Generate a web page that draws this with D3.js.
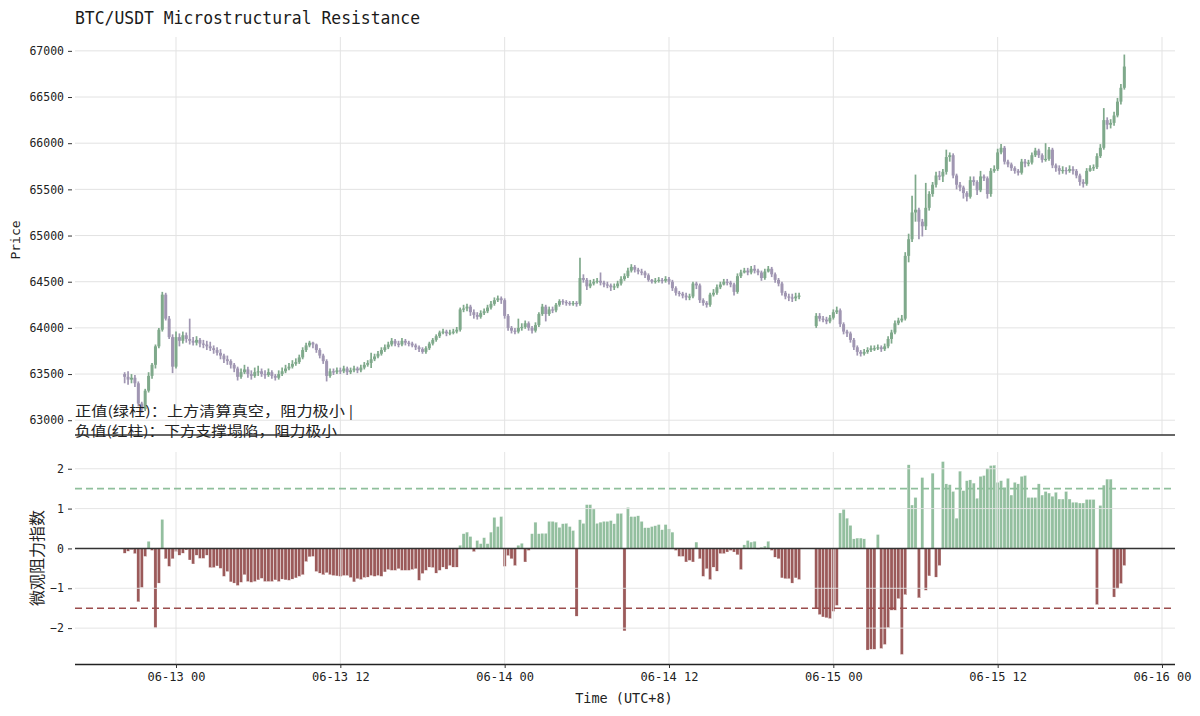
<!DOCTYPE html>
<html><head><meta charset="utf-8">
<script src="https://cdn.jsdelivr.net/npm/d3@7"></script>
<style>body{margin:0;background:#fff}svg{display:block}</style>
</head><body>
<svg id="c" width="1200" height="716"></svg>
<script>
// ---------- DATA (15-minute bars starting 06-12 20:15, UTC+8) ----------
const startTime = [2024, 5, 12, 20, 15];
const closes = [
63470,63440,63460,63400,63180,63120,63320,63480,63600,63800,
63980,64360,64100,63900,63580,63900,63860,63920,63880,63860,
63840,63870,63830,63820,63800,63780,63760,63730,63700,63660,
63640,63600,63560,63470,63520,63550,63500,63480,63520,63530,
63500,63490,63520,63480,63460,63500,63530,63560,63580,63610,
63630,63680,63760,63810,63840,63820,63760,63700,63640,63480,
63530,63520,63540,63530,63560,63520,63540,63560,63540,63570,
63600,63620,63660,63690,63720,63760,63790,63820,63860,63830,
63820,63860,63840,63830,63810,63790,63770,63740,63780,63830,
63870,63910,63950,63960,63940,63950,63960,63980,64200,64210,
64230,64170,64140,64120,64160,64180,64220,64260,64300,64320,
64300,64130,64000,63970,63960,64000,64010,64050,64000,63970,
64030,64150,64230,64150,64200,64190,64250,64290,64280,64270,
64260,64270,64260,64540,64520,64450,64480,64500,64510,64490,
64470,64460,64440,64450,64480,64530,64560,64620,64660,64630,
64610,64600,64570,64520,64500,64510,64520,64510,64530,64500,
64430,64380,64370,64350,64330,64340,64480,64460,64300,64270,
64250,64360,64380,64440,64470,64500,64490,64470,64390,64560,
64600,64620,64600,64640,64620,64600,64540,64610,64640,64580,
64520,64480,64380,64340,64330,64320,64340,64350,null,null,
null,null,64130,64100,64090,64070,64110,64170,64190,64040,
63960,63940,63870,63790,63740,63720,63740,63760,63780,63780,
63790,63770,63800,63880,63950,64050,64080,64100,64780,64960,
65250,65280,65150,65100,65300,65450,65550,65650,65640,65690,
65850,65870,65650,65550,65520,65460,65420,65600,65580,65490,
65640,65620,65450,65700,65720,65900,65950,65800,65770,65730,
65700,65680,65800,65780,65790,65870,65920,65870,65820,65830,
65930,65760,65730,65700,65710,65700,65720,65700,65650,65580,
65560,65700,65730,65740,65860,65950,66250,66200,66220,66300,
66450,66600,66830
];
const highs = [
63520,63530,63500,63490,63420,63200,63340,63520,63620,63820,
64000,64390,64380,64130,63930,63960,63940,63960,63950,64100,
63900,63910,63890,63870,63860,63850,63810,63790,63770,63720,
63700,63660,63620,63580,63560,63600,63580,63540,63570,63590,
63560,63540,63560,63540,63500,63540,63570,63600,63620,63650,
63670,63710,63790,63840,63860,63850,63830,63780,63720,63660,
63560,63560,63570,63570,63590,63580,63570,63590,63580,63600,
63630,63650,63730,63720,63750,63790,63820,63850,63890,63880,
63860,63890,63880,63860,63850,63830,63810,63790,63800,63850,
63890,63930,63970,63990,63980,63980,63990,64010,64220,64250,
64260,64250,64200,64170,64190,64210,64250,64290,64330,64350,
64340,64320,64150,64020,64000,64100,64050,64080,64070,64020,
64060,64170,64260,64250,64230,64230,64270,64310,64310,64300,
64290,64290,64290,64760,64580,64540,64520,64530,64540,64600,
64510,64500,64480,64480,64510,64560,64590,64650,64690,64680,
64650,64640,64620,64590,64530,64540,64550,64540,64560,64550,
64520,64450,64400,64390,64380,64370,64500,64500,64480,64320,
64290,64380,64420,64470,64500,64530,64530,64510,64490,64590,
64630,64650,64650,64670,64680,64640,64620,64640,64670,64660,
64600,64540,64500,64400,64370,64370,64380,64380,null,null,
null,null,64160,64160,64130,64120,64140,64200,64230,64210,
64060,63980,63960,63890,63810,63760,63770,63790,63810,63810,
63820,63810,63830,63910,63980,64080,64110,64140,64820,65020,
65430,65660,65300,65180,65570,65480,65580,65690,65700,65720,
65930,65900,65890,65670,65580,65540,65480,65640,65640,65600,
65700,65660,65640,65730,65760,65940,65990,65970,65820,65790,
65750,65720,65830,65830,65820,65900,65950,65940,65890,66000,
65960,65950,65780,65760,65750,65740,65760,65750,65720,65670,
65610,65730,65760,65770,65890,65990,66380,66280,66260,66340,
66490,66640,66960
];
const lows = [
63400,63385,63400,63360,63150,63080,63100,63300,63450,63560,
63780,63960,64080,63880,63510,63560,63800,63830,63840,63820,
63810,63810,63790,63780,63760,63750,63720,63700,63660,63620,
63600,63560,63520,63430,63450,63500,63460,63440,63460,63480,
63470,63450,63470,63450,63430,63440,63480,63510,63540,63560,
63590,63610,63660,63740,63790,63780,63730,63670,63610,63420,
63460,63490,63500,63500,63510,63490,63500,63520,63510,63520,
63550,63580,63565,63640,63670,63700,63740,63770,63800,63800,
63790,63800,63810,63800,63790,63760,63740,63720,63720,63760,
63810,63850,63890,63930,63910,63920,63930,63940,63960,64170,
64180,64130,64100,64090,64100,64140,64160,64200,64240,64280,
64260,64100,63970,63940,63930,63940,63970,63990,63970,63940,
63950,64010,64130,64070,64130,64160,64170,64230,64250,64240,
64240,64240,64230,64240,64490,64410,64430,64460,64480,64460,
64440,64430,64400,64410,64430,64460,64510,64540,64600,64600,
64580,64570,64540,64500,64480,64480,64490,64480,64490,64470,
64400,64350,64340,64320,64300,64300,64320,64420,64270,64240,
64220,64230,64340,64360,64420,64460,64460,64440,64350,64370,
64540,64590,64570,64580,64590,64570,64510,64520,64600,64550,
64490,64450,64350,64310,64290,64280,64290,64310,null,null,
null,null,64000,64070,64060,64040,64050,64090,64150,64010,
63930,63900,63840,63760,63700,63690,63700,63720,63740,63750,
63760,63740,63750,63780,63830,63930,64030,64060,64080,64710,
64930,65150,64960,64990,65060,65270,65420,65520,65600,65580,
65660,65800,65620,65500,65480,65400,65370,65400,65540,65440,
65470,65590,65400,65420,65680,65700,65880,65770,65740,65700,
65670,65650,65660,65740,65750,65770,65850,65840,65790,65800,
65810,65730,65690,65660,65670,65660,65680,65660,65620,65540,
65520,65540,65690,65700,65720,65840,65930,66150,66160,66190,
66280,66420,66580
];
// opens of bars that follow a missing bar (otherwise open = previous close)
const segmentOpens = {0: 63500, 202: 64020};

const resistance = [
-0.12,-0.07,-0.03,-0.13,-1.34,-0.98,-0.20,0.18,-0.05,-1.99,
-0.87,0.73,-0.26,-0.45,-0.26,-0.08,-0.17,-0.12,-0.04,-0.29,
-0.39,-0.17,-0.25,-0.25,-0.17,-0.48,-0.48,-0.44,-0.50,-0.70,
-0.58,-0.84,-0.87,-0.93,-0.85,-0.66,-0.83,-0.85,-0.83,-0.79,
-0.75,-0.83,-0.83,-0.83,-0.79,-0.83,-0.77,-0.79,-0.80,-0.77,
-0.74,-0.70,-0.66,-0.33,-0.21,-0.20,-0.58,-0.62,-0.66,-0.61,
-0.66,-0.68,-0.69,-0.70,-0.68,-0.68,-0.73,-0.84,-0.76,-0.78,
-0.73,-0.72,-0.68,-0.70,-0.68,-0.70,-0.59,-0.53,-0.55,-0.55,
-0.51,-0.55,-0.55,-0.55,-0.53,-0.51,-0.80,-0.63,-0.55,-0.47,
-0.48,-0.62,-0.55,-0.47,-0.52,-0.43,-0.47,-0.47,0.08,0.37,
0.41,0.30,-0.08,0.20,0.12,0.27,0.12,0.41,0.78,0.55,
0.80,-0.45,-0.18,-0.26,-0.43,0.08,0.13,-0.34,-0.05,0.37,
0.66,0.37,0.38,0.38,0.68,0.68,0.66,0.53,0.62,0.63,
0.55,0.45,-1.70,0.72,0.63,1.10,1.10,0.99,0.63,0.66,
0.68,0.68,0.70,0.62,0.88,0.88,-2.07,1.03,0.80,0.80,
0.82,0.68,0.52,0.52,0.55,0.57,0.60,0.47,0.60,0.49,
0.41,-0.05,-0.20,-0.20,-0.34,-0.30,-0.34,0.16,-0.26,-0.70,
-0.51,-0.78,-0.47,-0.57,-0.13,-0.13,-0.09,-0.05,-0.09,-0.16,
-0.53,0.09,0.20,0.16,0.18,-0.02,0.03,0.06,0.18,-0.05,
-0.22,-0.26,-0.74,-0.76,-0.76,-0.87,-0.74,-0.78,null,null,
null,null,-1.52,-1.66,-1.72,-1.74,-1.76,-1.58,-1.43,0.89,
0.98,0.76,0.58,0.24,0.26,0.26,0.24,-2.55,-2.53,-2.53,
0.35,-2.51,-2.41,-1.99,-1.55,-1.55,-1.26,-2.66,-1.16,2.10,
1.09,1.28,-1.24,1.78,-1.05,-0.69,1.89,-0.72,-0.43,2.18,
1.62,1.60,1.43,0.76,1.94,1.45,1.70,1.72,1.64,1.26,
1.81,1.83,2.01,2.08,2.09,1.66,1.70,1.53,1.76,1.34,
1.66,1.62,1.81,1.83,1.28,1.28,1.28,1.62,1.34,1.43,
1.39,1.31,1.41,1.24,1.24,1.43,1.24,1.16,1.16,1.14,
1.14,1.23,1.23,1.23,-1.41,1.08,1.59,1.74,1.74,-1.22,
-1.01,-0.88,-0.43
];
const thresholds = [1.5, -1.5];
const priceTicks = [63000,63500,64000,64500,65000,65500,66000,66500,67000];
const resTicks = [-2,-1,0,1,2];
const timeTickLabels = ["06-13 00","06-13 12","06-14 00","06-14 12","06-15 00","06-15 12","06-16 00"];
const titleText = "BTC/USDT Microstructural Resistance";
const legendLines = ["正值(绿柱)：上方清算真空，阻力极小 |", "负值(红柱)：下方支撑塌陷，阻力极小"];

// ---------- BUILD ----------
const t0 = new Date(...startTime);
const times = closes.map((_, i) => d3.timeMinute.offset(t0, 15 * i));
const candles = [];
closes.forEach((c, i) => {
  if (c == null) return;
  const o = (i in segmentOpens) ? segmentOpens[i] : closes[i - 1];
  candles.push({t: times[i], o, c, hi: Math.max(o, c, highs[i]), lo: Math.min(o, c, lows[i])});
});
const bars = resistance.map((v, i) => ({t: times[i], v})).filter(d => d.v != null);

const svg = d3.select("#c");
const L = 75, R = 1175;
const x = d3.scaleTime()
  .domain([new Date(2024,5,12,16,37,30), new Date(2024,5,16,0,57)])
  .range([L, R]);
const yP = d3.scaleLinear().domain([62840, 67150]).range([435, 37]);
const yR = d3.scaleLinear().domain([-2.9, 2.42]).range([664, 452]);
const tickDates = timeTickLabels.map((s, k) => new Date(2024,5,13 + Math.floor(k/2), (k%2)*12));

const monoFont = "'DejaVu Sans Mono', monospace";
const gridCol = "#e3e3e3";

// title
svg.append("text").attr("x", 75).attr("y", 24)
  .attr("font-family", monoFont).attr("font-size", 18).attr("fill", "#1a1a1a")
  .attr("textLength", 345).attr("lengthAdjust", "spacingAndGlyphs")
  .text(titleText);

// ---- top panel ----
const gTop = svg.append("g");
gTop.selectAll("line.hg").data(priceTicks).join("line")
  .attr("x1", L).attr("x2", R).attr("y1", d => yP(d)).attr("y2", d => yP(d))
  .attr("stroke", gridCol).attr("stroke-width", 1);
gTop.selectAll("line.vg").data(tickDates).join("line")
  .attr("x1", d => x(d)).attr("x2", d => x(d)).attr("y1", 37).attr("y2", 435)
  .attr("stroke", gridCol).attr("stroke-width", 1);

const upCol = "#7fa98b", downCol = "#a096b2";
const cw = 3.0;
const cg = gTop.selectAll("g.cd").data(candles).join("g");
cg.append("line")
  .attr("x1", d => x(d.t)).attr("x2", d => x(d.t))
  .attr("y1", d => yP(d.hi)).attr("y2", d => yP(d.lo))
  .attr("stroke", d => d.c >= d.o ? upCol : downCol).attr("stroke-width", 1.7);
cg.append("rect")
  .attr("x", d => x(d.t) - cw/2).attr("width", cw)
  .attr("y", d => yP(Math.max(d.o, d.c)))
  .attr("height", d => Math.max(1.2, Math.abs(yP(d.o) - yP(d.c))))
  .attr("fill", d => d.c >= d.o ? upCol : downCol);

// y axis (price)
const yAxTop = d3.axisLeft(yP).tickValues(priceTicks).tickSize(4).tickPadding(4).tickFormat(d3.format("d"));
const axTop = svg.append("g").attr("transform", `translate(${72},0)`).call(yAxTop);
axTop.select(".domain").remove();
axTop.selectAll("text").attr("font-family", monoFont).attr("font-size", 11.5).attr("fill", "#222");
axTop.selectAll("line").attr("stroke", "#333");
svg.append("line").attr("x1", L).attr("x2", R).attr("y1", 435).attr("y2", 435)
  .attr("stroke", "#333").attr("stroke-width", 1.3);
svg.append("text").attr("transform", "translate(20,240) rotate(-90)")
  .attr("text-anchor", "middle").attr("font-family", monoFont).attr("font-size", 13)
  .attr("fill", "#222").text("Price");

// ---- bottom panel ----
const gBot = svg.append("g");
const posCol = "#93bf9f", negCol = "#9b5a5a";
const bw = 3.1;
gBot.selectAll("rect.b").data(bars).join("rect")
  .attr("x", d => x(d.t) - bw/2).attr("width", bw)
  .attr("y", d => yR(Math.max(0, d.v)))
  .attr("height", d => Math.abs(yR(d.v) - yR(0)))
  .attr("fill", d => d.v >= 0 ? posCol : negCol)
  .attr("stroke", "#fff").attr("stroke-width", 0.3);
gBot.selectAll("line.hg").data(resTicks).join("line")
  .attr("x1", L).attr("x2", R).attr("y1", d => yR(d)).attr("y2", d => yR(d))
  .attr("stroke", gridCol).attr("stroke-width", 1).attr("opacity", 0.9);
gBot.selectAll("line.vg").data(tickDates).join("line")
  .attr("x1", d => x(d)).attr("x2", d => x(d)).attr("y1", 452).attr("y2", 664)
  .attr("stroke", gridCol).attr("stroke-width", 1).attr("opacity", 0.9);
gBot.append("line").attr("x1", L).attr("x2", R).attr("y1", yR(0)).attr("y2", yR(0))
  .attr("stroke", "#333").attr("stroke-width", 1.5);
gBot.selectAll("line.th").data(thresholds).join("line")
  .attr("x1", L).attr("x2", R).attr("y1", d => yR(d)).attr("y2", d => yR(d))
  .attr("stroke", d => d > 0 ? "#8fbf9c" : "#9b4d4d").attr("stroke-width", 1.6)
  .attr("stroke-dasharray", "7,4");

const yAxBot = d3.axisLeft(yR).tickValues(resTicks).tickSize(4).tickPadding(4).tickFormat(d3.format("d"));
const axBot = svg.append("g").attr("transform", `translate(${72},0)`).call(yAxBot);
axBot.select(".domain").remove();
axBot.selectAll("text").attr("font-family", monoFont).attr("font-size", 11.5).attr("fill", "#222");
axBot.selectAll("line").attr("stroke", "#333");

const xAx = d3.axisBottom(x).tickValues(tickDates).tickSize(4).tickPadding(4)
  .tickFormat((d, k) => timeTickLabels[k]);
const axX = svg.append("g").attr("transform", "translate(0,664)").call(xAx);
axX.select(".domain").attr("d", `M${L},0.5H${R}`).attr("stroke", "#222").attr("stroke-width", 1.3);
axX.selectAll("text").attr("font-family", monoFont).attr("font-size", 12).attr("fill", "#222");
axX.selectAll("line").attr("stroke", "#333");

svg.append("text").attr("x", 624).attr("y", 703).attr("text-anchor", "middle")
  .attr("font-family", monoFont).attr("font-size", 13.5).attr("fill", "#222").text("Time (UTC+8)");
svg.append("text").attr("transform", "translate(43,558) rotate(-90)")
  .attr("text-anchor", "middle").attr("font-family", "'Noto Sans CJK SC', sans-serif")
  .attr("font-size", 16).attr("fill", "#222").text("微观阻力指数");

// legend text
svg.selectAll("text.lg").data(legendLines).join("text")
  .attr("x", 75).attr("y", (d, k) => 416 + k * 20)
  .attr("font-family", "'Noto Sans CJK SC', sans-serif").attr("font-size", 13.5)
  .attr("fill", "#222")
  .attr("textLength", (d, k) => k === 0 ? 278 : 262).attr("lengthAdjust", "spacingAndGlyphs")
  .text(d => d);
</script>
</body></html>
